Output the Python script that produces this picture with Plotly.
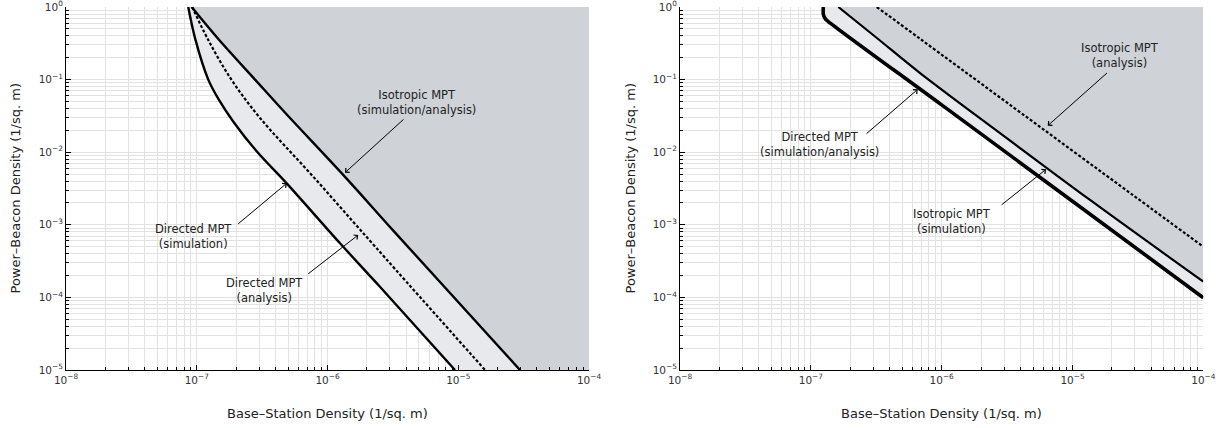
import plotly.graph_objects as go

# ---------------- data ----------------
# Left panel
L_dir_sim_x = [8.61e-8, 9.77e-8, 1.225e-7, 1.479e-7, 1.905e-7, 2.884e-7, 4.875e-7, 1.247e-6, 2.518e-6, 9.44e-6]
L_dir_sim_y = [1.0, 0.355, 0.1, 0.0525, 0.0263, 0.0102, 3.72e-3, 5.56e-4, 1.403e-4, 1e-5]

L_dir_ana_x = [9.23e-8, 1.225e-7, 1.849e-7, 3.048e-7, 7.78e-7, 2.377e-6, 1.603e-5]
L_dir_ana_y = [1.0, 0.351, 0.0987, 0.0296, 4.60e-3, 4.74e-4, 1e-5]

L_iso_x = [9.14e-8, 1.462e-7, 2.793e-7, 4.592e-7, 1.361e-6, 3.184e-6, 2.965e-5]
L_iso_y = [1.0, 0.363, 0.1, 0.0372, 4.57e-3, 8.32e-4, 1e-5]

# Right panel
R_dir_x = [1.247e-7, 1.247e-7, 1.288e-7, 1.361e-7, 1e-6, 1e-5, 1e-4]
R_dir_y = [1.0, 0.794, 0.692, 0.631, 0.0448, 2.11e-3, 9.91e-5]

R_iso_sim_x = [1.622e-7, 3.162e-7, 6.839e-7, 3.162e-6, 1.361e-5, 1e-4]
R_iso_sim_y = [1.0, 0.380, 0.123, 0.0155, 2.198e-3, 1.648e-4]

R_iso_ana_x = [3.192e-7, 6.839e-7, 3.162e-6, 2.924e-5, 1e-4]
R_iso_ana_y = [1.0, 0.365, 0.0481, 2.535e-3, 4.99e-4]

X_MIN, X_MAX = 1e-8, 1e-4
Y_MIN, Y_MAX = 1e-5, 1.0
x_ticks = [1e-8, 1e-7, 1e-6, 1e-5, 1e-4]
x_tick_text = ["10<sup>\u22128</sup>", "10<sup>\u22127</sup>", "10<sup>\u22126</sup>",
               "10<sup>\u22125</sup>", "10<sup>\u22124</sup>"]
y_ticks = [1e-5, 1e-4, 1e-3, 1e-2, 1e-1, 1.0]
y_tick_text = ["10<sup>\u22125</sup>", "10<sup>\u22124</sup>", "10<sup>\u22123</sup>",
               "10<sup>\u22122</sup>", "10<sup>\u22121</sup>", "10<sup>0</sup>"]

x_title = "Base\u2013Station Density (1/sq. m)"
y_title = "Power\u2013Beacon Density (1/sq. m)"

# ---------------- styling ----------------
DARK = "rgb(207,210,214)"
LIGHT = "rgb(232,233,236)"
GRID = "rgb(226,226,226)"
FONT = "DejaVu Sans"

fig = go.Figure()

def fill(xs, ys, color, xa, ya):
    fig.add_trace(go.Scatter(x=xs, y=ys, mode="lines", fill="toself", fillcolor=color,
                             line=dict(width=0), hoverinfo="skip", showlegend=False,
                             xaxis=xa, yaxis=ya))

def line(xs, ys, width, dash, xa, ya):
    fig.add_trace(go.Scatter(x=xs, y=ys, mode="lines",
                             line=dict(color="black", width=width, dash=dash, shape="spline", smoothing=1.0),
                             hoverinfo="skip", showlegend=False, xaxis=xa, yaxis=ya))

# Left panel fills
fill(L_iso_x + [X_MAX, X_MAX], L_iso_y + [Y_MIN, Y_MAX], DARK, "x", "y")
fill(L_dir_sim_x + L_iso_x[::-1], L_dir_sim_y + L_iso_y[::-1], LIGHT, "x", "y")
# Left panel lines
line(L_dir_sim_x, L_dir_sim_y, 2.4, "solid", "x", "y")
line(L_iso_x, L_iso_y, 2.4, "solid", "x", "y")
line(L_dir_ana_x, L_dir_ana_y, 2.2, "3px,2px", "x", "y")

# Right panel fills
fill(R_iso_sim_x + [X_MAX], R_iso_sim_y + [Y_MAX], DARK, "x2", "y2")
fill(R_dir_x + R_iso_sim_x[::-1], R_dir_y + R_iso_sim_y[::-1], LIGHT, "x2", "y2")
# Right panel lines
line(R_dir_x, R_dir_y, 3.6, "solid", "x2", "y2")
line(R_iso_sim_x, R_iso_sim_y, 2.2, "solid", "x2", "y2")
line(R_iso_ana_x, R_iso_ana_y, 2.2, "3px,2px", "x2", "y2")

W, H = 1225, 428
axis_common = dict(
    type="log", automargin=False,
    ticks="inside", ticklen=5, tickwidth=1, tickcolor="black",
    showline=True, linecolor="black", linewidth=1, mirror=False,
    showgrid=True, gridcolor=GRID, gridwidth=1, zeroline=False,
    ticklabeloverflow="allow",
    tickfont=dict(family=FONT, size=10.5, color="#333"),
    minor=dict(ticks="inside", ticklen=3, tickcolor="black", showgrid=True,
               gridcolor=GRID, gridwidth=1, dtick="D1"),
)
xax = dict(axis_common, tickmode="array", tickvals=x_ticks, ticktext=x_tick_text, range=[-8, -4])
yax = dict(axis_common, tickmode="array", tickvals=y_ticks, ticktext=y_tick_text, range=[-5, 0])

fig.update_layout(
    width=W, height=H,
    margin=dict(l=0, r=0, t=7, b=58, autoexpand=False),
    paper_bgcolor="white", plot_bgcolor="white",
    xaxis=dict(xax, domain=[66 / W, 589 / W], anchor="y"),
    yaxis=dict(yax, domain=[0, 1], anchor="x"),
    xaxis2=dict(xax, domain=[680 / W, 1203.3 / W], anchor="y2"),
    yaxis2=dict(yax, domain=[0, 1], anchor="x2"),
    font=dict(family=FONT, color="#222"),
)

ann_font = dict(family=FONT, size=11.5, color="#222")
annotations = []

def label(text, x, y, xr, yr):
    annotations.append(dict(text=text, x=x, y=y, xref=xr, yref=yr, showarrow=False,
                            font=ann_font, align="center", xanchor="center", yanchor="middle"))

def arrow(hx, hy, tx, ty, xr, yr):
    annotations.append(dict(text="", x=hx, y=hy, ax=tx, ay=ty, xref=xr, yref=yr,
                            axref=xr, ayref=yr, showarrow=True, arrowhead=4, arrowsize=1.1,
                            arrowwidth=1, arrowcolor="black", standoff=0, startstandoff=0))

# left panel (log10 coordinates)
label("Isotropic MPT<br>(simulation/analysis)", -5.318, -1.322, "x", "y")
arrow(-5.866, -2.282, -5.407, -1.529, "x", "y")
label("Directed MPT<br>(simulation)", -7.026, -3.164, "x", "y")
arrow(-6.312, -2.428, -6.694, -3.003, "x", "y")
label("Directed MPT<br>(analysis)", -6.482, -3.905, "x", "y")
arrow(-5.765, -3.140, -6.159, -3.691, "x", "y")

# right panel
label("Directed MPT<br>(simulation/analysis)", -6.930, -1.890, "x2", "y2")
arrow(-6.183, -1.134, -6.586, -1.763, "x2", "y2")
label("Isotropic MPT<br>(analysis)", -4.638, -0.668, "x2", "y2")
arrow(-5.189, -1.635, -4.725, -0.891, "x2", "y2")
label("Isotropic MPT<br>(simulation)", -5.920, -2.955, "x2", "y2")
arrow(-5.202, -2.236, -5.553, -2.741, "x2", "y2")

# axis titles
tfont = dict(family=FONT, size=13, color="#222")
for cx in [327.5 / W, 941.6 / W]:
    annotations.append(dict(text=x_title, x=cx, y=-0.1185, xref="paper", yref="paper",
                            showarrow=False, font=tfont, xanchor="center", yanchor="middle"))
for cx in [15 / W, 630 / W]:
    annotations.append(dict(text=y_title, x=cx, y=0.5, xref="paper", yref="paper",
                            showarrow=False, font=tfont, textangle=-90,
                            xanchor="center", yanchor="middle"))

fig.update_layout(annotations=annotations)
fig.write_html("out.html")
